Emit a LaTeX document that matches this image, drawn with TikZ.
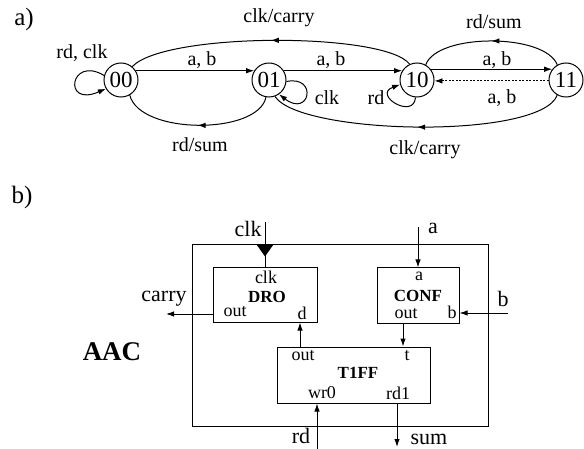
\documentclass[tikz,border=0pt]{standalone}
\usepackage{fontspec}
\setmainfont{Liberation Serif}
\usetikzlibrary{arrows.meta,decorations.markings}
\begin{document}
\begin{tikzpicture}[x=1pt,y=-1pt, line width=1pt,
  state/.style={circle,draw,minimum size=34pt,inner sep=0pt,font=\fontsize{23}{25}\selectfont},
  lbl/.style={inner sep=0pt,font=\fontsize{20}{22}\selectfont},
  arr/.style={-{Latex[length=8pt,width=5.5pt]}},
  midarr/.style={postaction={decorate},decoration={markings,mark=at position 0.5 with {\arrow{Latex[length=8pt,width=5.5pt]}}}},
  blk/.style={draw,inner sep=0pt},
  bname/.style={inner sep=0pt,font=\bfseries\fontsize{17}{19}\selectfont},
  port/.style={inner sep=0pt,font=\fontsize{18}{20}\selectfont},
  io/.style={inner sep=0pt,font=\fontsize{22}{24}\selectfont},
  part/.style={inner sep=0pt,font=\fontsize{25}{27}\selectfont},
  dashedline/.style={dash pattern=on 2pt off 1.5pt, line width=0.9pt}
]
\useasboundingbox (0,0) rectangle (584,449);

% ---------- part a ----------
\node[part] (la) at (24,19) {a)};
\node[state] (s00) at (121,80) {00};
\node[state] (s01) at (269,80) {01};
\node[state] (s10) at (417,80) {10};
\node[state] (s11) at (566,80) {11};

% straight transitions
\draw[arr] (s00.32) -- (s01.148);
\draw[arr] (s01.32) -- (s10.148);
\draw[arr] (s10.38) -- (s11.142);
\draw[arr,dashedline] (s11.183) -- (s10.-3);

% curved transitions
\draw[midarr] (s10.115) .. controls (385,32) and (165,32) .. (s00.50);
\draw[midarr] (s11.120) .. controls (545,33) and (437,33) .. (s10.60);
\draw[midarr] (s01.-100) .. controls (258,135) and (140,135) .. (s00.-60);
\draw[midarr] (s11.-120) .. controls (540,140) and (300,135) .. (s01.-70);

% self loops
\draw[arr] (s00.165) .. controls (70,55) and (62,108) .. (s00.210);
\draw[arr] (s01.-5) .. controls (318,75) and (310,118) .. (s01.-55);
\draw[arr] (s10.-95) .. controls (414,120) and (372,95) .. (s10.195);

% labels
\node[lbl] (lrdclk) at (82,53) {rd, clk};
\node[lbl] (lab1) at (202,60) {a, b};
\node[lbl] (lab2) at (331,60) {a, b};
\node[lbl] (lab3) at (497,60) {a, b};
\node[lbl] (lab4) at (502,98) {a, b};
\node[lbl] (lclkcarry1) at (279,18) {clk/carry};
\node[lbl] (lrdsum1) at (494,22) {rd/sum};
\node[lbl] (lclk) at (327,98) {clk};
\node[lbl] (lrd) at (376,98) {rd};
\node[lbl] (lrdsum2) at (200,145) {rd/sum};
\node[lbl] (lclkcarry2) at (425,150) {clk/carry};

% ---------- part b ----------
\node[part] (lb) at (22,197) {b)};
\node[blk,minimum width=296pt,minimum height=181pt] (aac) at (340,335.5) {};
\node[blk,minimum width=104pt,minimum height=54pt] (dro) at (265,295) {};
\node[blk,minimum width=82pt,minimum height=55pt] (conf) at (418,295.5) {};
\node[blk,minimum width=153pt,minimum height=56pt] (tff) at (353.5,375) {};

\node[bname] (droname) at (267,297) {DRO};
\node[port] (droclk) at (266,277) {clk};
\node[port] (droout) at (235,312) {out};
\node[port] (drod) at (302,313) {d};
\node[bname] (confname) at (418,296) {CONF};
\node[port] (confa) at (419,276) {a};
\node[port] (confout) at (406,314) {out};
\node[port] (confb) at (452,312) {b};
\node[bname] (tffname) at (358,373) {T1FF};
\node[port] (tffout) at (303,356) {out};
\node[port] (tfft) at (407,356) {t};
\node[port] (tffwr) at (322,393) {wr0};
\node[port] (tffrd) at (398,393) {rd1};

\node[font=\bfseries\fontsize{27}{29}\selectfont,inner sep=0pt] (aaclbl) at (112,352) {AAC};

% external signals
\coordinate (clkin) at (265,222);
\node[io,anchor=east] (clklbl) at (262,229) {clk};
\draw (clkin) -- (dro.north);
\fill (clkin |- aac.north) ++(-8.5,0) -- ++(17,0) -- ++(-8.5,12) -- cycle;

\coordinate (ain) at (418,227);
\node[io] (albl) at (433,228) {a};
\draw[arr] (ain) -- (conf.north);

\coordinate (bin) at (508,313);
\node[io] (blbl) at (503,299) {b};
\draw[arr] (bin) -- (bin -| conf.east);

\coordinate (carryout) at (166,314);
\node[io] (carrylbl) at (164,299) {carry};
\draw[arr] (carryout -| dro.west) -- (carryout);

\coordinate (dx) at (300,0);
\draw[arr] (dx |- tff.north) -- (dx |- dro.south);

\coordinate (tx) at (403,0);
\draw[arr] (tx |- conf.south) -- (tx |- tff.north);

\coordinate (rdin) at (317,449);
\node[io] (rdlbl) at (301,436) {rd};
\draw[arr] (rdin) -- (rdin |- tff.south);

\coordinate (sumout) at (397,447);
\node[io] (sumlbl) at (429,439) {sum};
\draw[arr] (sumout |- tff.south) -- (sumout);
\end{tikzpicture}
\end{document}
